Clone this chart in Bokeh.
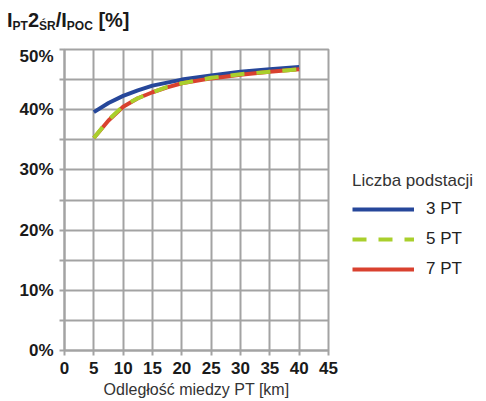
from bokeh.plotting import figure
from bokeh.models import (Range1d, FixedTicker, PrintfTickFormatter, Legend, LegendItem, Div)
from bokeh.layouts import column
from bokeh.embed import file_html
from bokeh.resources import INLINE

# ---- data ----
distance_km = [5, 7.5, 10, 12.5, 15, 17.5, 20, 25, 30, 35, 40]
pt3 = [39.6, 41.1, 42.3, 43.2, 44.0, 44.5, 45.0, 45.7, 46.3, 46.7, 47.1]
pt5 = [35.3, 38.3, 40.6, 41.9, 42.9, 43.8, 44.4, 45.3, 45.9, 46.3, 46.7]
pt7 = [35.3, 38.2, 40.5, 41.9, 42.9, 43.7, 44.4, 45.2, 45.8, 46.3, 46.7]
x_ticks = [0, 5, 10, 15, 20, 25, 30, 35, 40, 45]
y_ticks = [0, 10, 20, 30, 40, 50]
y_minor = [5, 15, 25, 35, 45]
series_labels = ["3 PT", "5 PT", "7 PT"]
legend_title = "Liczba podstacji"
x_label = "Odległość miedzy PT [km]"

FONT = "Liberation Sans"
GRID = "#a3a3a3"

sub = '<sub style="font-size:12px;line-height:0;vertical-align:-3px">'
title_div = Div(
    text=f'I{sub}PT</sub>2{sub}ŚR</sub>/I{sub}POC</sub> [%]',
    width=200, height=36,
    styles={"font-family": FONT, "font-weight": "bold", "font-size": "20px",
            "line-height": "18px", "padding-top": "6px", "padding-left": "2px",
            "color": "#1a1a1a", "white-space": "nowrap"})

p = figure(frame_width=264, frame_height=301,
           min_border_left=64, min_border_top=3, min_border_bottom=48, min_border_right=10,
           x_range=Range1d(0, 45), y_range=Range1d(0, 50),
           output_backend="svg", toolbar_location=None)
p.background_fill_color = "white"
p.border_fill_color = "white"
p.outline_line_color = GRID
p.outline_line_width = 2

for ax in (p.xaxis[0], p.yaxis[0]):
    ax.axis_line_color = GRID
    ax.axis_line_width = 2
    ax.major_tick_line_color = GRID
    ax.major_tick_line_width = 2
    ax.minor_tick_line_color = GRID
    ax.minor_tick_line_width = 2
    ax.major_tick_out = 5
    ax.major_tick_in = 0
    ax.minor_tick_in = 0
    ax.major_label_text_font = FONT
    ax.major_label_text_font_style = "bold"
    ax.major_label_text_font_size = "17px"
    ax.major_label_text_color = "#1a1a1a"
    ax.major_label_standoff = 6

p.xaxis.ticker = FixedTicker(ticks=x_ticks)
p.xaxis.minor_tick_out = 0
p.xaxis.axis_label = x_label
p.xaxis.axis_label_text_font = FONT
p.xaxis.axis_label_text_font_style = "normal"
p.xaxis.axis_label_text_font_size = "16px"
p.xaxis.axis_label_text_color = "#333333"
p.xaxis.axis_label_standoff = 4

p.yaxis.ticker = FixedTicker(ticks=y_ticks, minor_ticks=y_minor)
p.yaxis.minor_tick_out = 5
p.yaxis.formatter = PrintfTickFormatter(format="%d%%")

p.xgrid.ticker = FixedTicker(ticks=x_ticks)
p.xgrid.grid_line_color = GRID
p.xgrid.grid_line_width = 2
p.ygrid.ticker = FixedTicker(ticks=y_ticks, minor_ticks=y_minor)
p.ygrid.grid_line_color = GRID
p.ygrid.grid_line_width = 2
p.ygrid.minor_grid_line_color = GRID
p.ygrid.minor_grid_line_width = 2

r3 = p.line(distance_km, pt3, line_color="#26479a", line_width=4)
r7 = p.line(distance_km, pt7, line_color="#d9412f", line_width=4)
r5 = p.line(distance_km, pt5, line_color="#a9cf2c", line_width=4, line_dash="14 12")

legend = Legend(items=[LegendItem(label=series_labels[0], renderers=[r3]),
                       LegendItem(label=series_labels[1], renderers=[r5]),
                       LegendItem(label=series_labels[2], renderers=[r7])],
                location=(24, 71), padding=0, margin=0, spacing=10,
                glyph_width=62, glyph_height=20, label_standoff=12,
                border_line_color=None, background_fill_alpha=0,
                label_text_font=FONT, label_text_font_size="17px",
                label_text_color="#222222",
                title=legend_title, title_text_font=FONT, title_text_font_size="17px",
                title_text_font_style="normal", title_text_color="#333333",
                title_standoff=8)
p.add_layout(legend, "right")

layout = column(title_div, p)
open("out.html", "w").write(file_html(layout, INLINE))
